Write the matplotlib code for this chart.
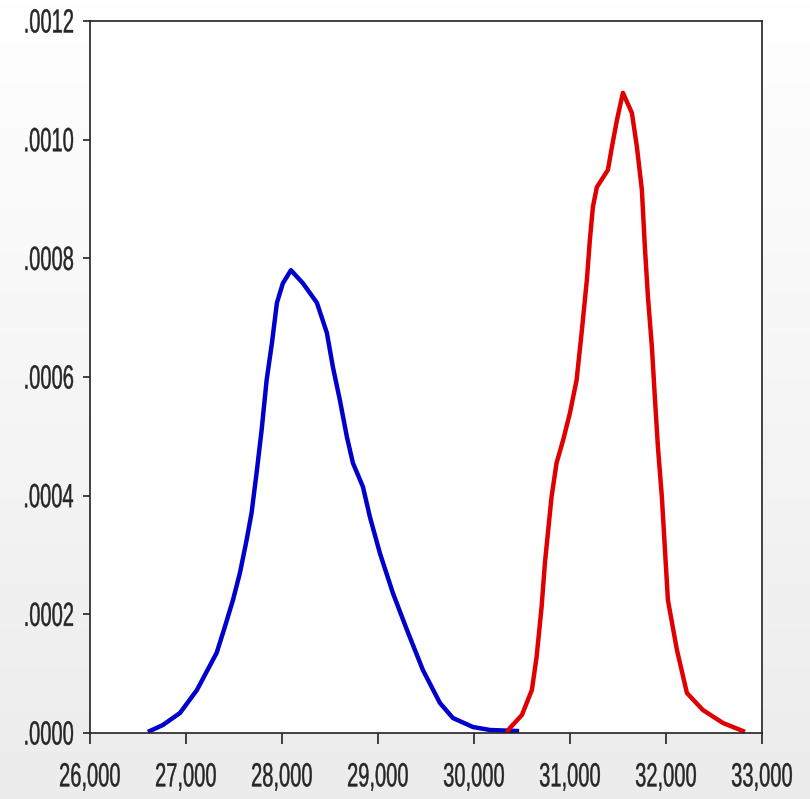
import numpy as np
import matplotlib.pyplot as plt
from matplotlib.font_manager import FontProperties
from matplotlib.textpath import TextPath
from matplotlib.patches import PathPatch
from matplotlib.transforms import Affine2D, IdentityTransform

# 读图得到的两条密度曲线（x 为数值, y 为密度）
blue_x = [26625, 26760, 26938, 27115, 27320, 27406, 27490, 27563, 27632, 27684,
          27736, 27789, 27841, 27896, 27948, 28010, 28094, 28219, 28365, 28469,
          28531, 28604, 28677, 28740, 28844, 28917, 29021, 29156, 29302, 29469,
          29646, 29781, 29990, 30167, 30448]
blue_y = [0.0000034, 0.0000135, 0.0000337, 0.0000725, 0.000135, 0.000179, 0.000224,
          0.000270, 0.000325, 0.000371, 0.000438, 0.000511, 0.000595, 0.000657,
          0.000725, 0.000758, 0.000780, 0.000758, 0.000725, 0.000674, 0.000617,
          0.000561, 0.000499, 0.000455, 0.000415, 0.000364, 0.000303, 0.000236,
          0.000174, 0.000106, 0.0000506, 0.0000253, 0.0000101, 0.0000051, 0.0000034]

red_x = [30354, 30375, 30500, 30604, 30653, 30705, 30740, 30774, 30809, 30861,
         30930, 31000, 31070, 31125, 31177, 31208, 31240, 31281, 31396, 31438,
         31490, 31552, 31646, 31698, 31750, 31781, 31813, 31854, 31885, 31917,
         31958, 32021, 32115, 32219, 32385, 32594, 32802]
red_y = [0.0000034, 0.0000084, 0.0000303, 0.0000725, 0.000128, 0.000212, 0.000287,
         0.000342, 0.000398, 0.000455, 0.000494, 0.000539, 0.000595, 0.000679,
         0.000764, 0.000831, 0.000887, 0.000920, 0.000949, 0.000988, 0.001033,
         0.001079, 0.001045, 0.000988, 0.000915, 0.000819, 0.000735, 0.000651,
         0.000566, 0.000482, 0.000398, 0.000224, 0.000140, 0.0000674, 0.0000388,
         0.0000169, 0.0000034]

x_ticks = [26000, 27000, 28000, 29000, 30000, 31000, 32000, 33000]
y_ticks = [0.0, 0.0002, 0.0004, 0.0006, 0.0008, 0.0010, 0.0012]
x_labels = ['{:,}'.format(v) for v in x_ticks]
y_labels = [('%.4f' % v)[1:] for v in y_ticks]

fig = plt.figure(figsize=(8.1, 7.99), dpi=100)

# 背景：上白下灰的渐变
bg = fig.add_axes([0, 0, 1, 1], zorder=0)
grad = np.linspace(1.0, 0.925, 256).reshape(-1, 1)
bg.imshow(np.dstack([grad, grad, grad]), aspect='auto', extent=[0, 1, 0, 1])
bg.axis('off')

ax = fig.add_axes([0.111, 0.0826, 0.8296, 0.8911], zorder=1)
ax.set_facecolor('white')
ax.plot(blue_x, blue_y, color='#0000cc', lw=3.2, solid_joinstyle='round')
ax.plot(red_x, red_y, color='#e00000', lw=3.2, solid_joinstyle='round')

ax.set_xlim(26000, 33000)
ax.set_ylim(0, 0.0012)
ax.set_xticks(x_ticks)
ax.set_yticks(y_ticks)
ax.set_xticklabels([])
ax.set_yticklabels([])
ax.tick_params(axis='x', direction='out', length=8, width=1.2, colors='#222222')
ax.tick_params(axis='y', direction='out', length=5, width=1.2, colors='#222222')
for s in ax.spines.values():
    s.set_linewidth(1.2)
    s.set_color('#222222')

# 原图的刻度字体是窄体，这里把字形横向压缩来模仿
fp = FontProperties(family='Liberation Sans')
SX = 0.6

def narrow_text(s, x, y, ha, va):
    tp = TextPath((0, 0), s, size=33.5, prop=fp)
    e = tp.get_extents()
    w = (e.x1 - e.x0) * SX
    if ha == 'center':
        dx = x - w / 2 - e.x0 * SX
    else:  # right
        dx = x - w - e.x0 * SX
    if va == 'top':
        dy = y - e.y1
    else:  # center
        dy = y - (e.y0 + e.y1) / 2
    tr = Affine2D().scale(SX, 1).translate(dx, dy)
    fig.add_artist(PathPatch(tr.transform_path(tp), facecolor='#262626',
                             edgecolor='#262626', lw=0.3,
                             transform=IdentityTransform()))

H = fig.get_figheight() * fig.dpi
for v, lab in zip(x_ticks, x_labels):
    px, _ = ax.transData.transform((v, 0))
    narrow_text(lab, px, H - 763, 'center', 'top')
for v, lab in zip(y_ticks, y_labels):
    _, py = ax.transData.transform((26000, v))
    narrow_text(lab, 73, py, 'right', 'center')

plt.savefig('out.png', dpi=100)
